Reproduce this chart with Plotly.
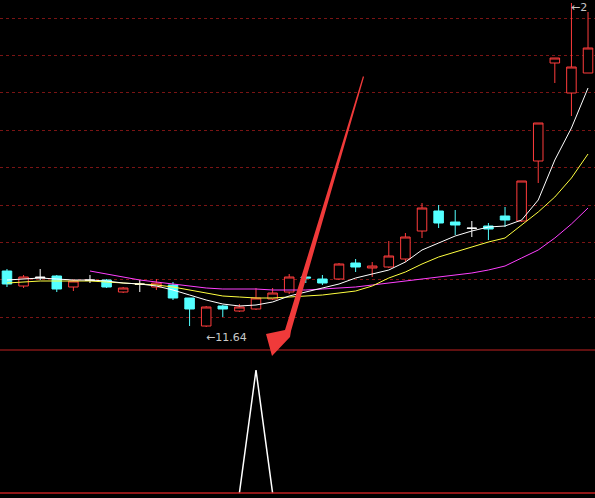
import plotly.graph_objects as go

opens  = [13.32,12.87,13.14,13.17,12.84,13.05,13.05,12.69,12.93,12.84,12.90,12.51,11.67,12.27,12.12,12.18,12.48,12.69,13.14,13.08,13.08,13.56,13.41,13.44,13.68,14.52,15.12,14.79,14.61,14.67,14.97,14.82,16.62,19.56,18.66,19.26]
highs  = [13.38,13.20,13.38,13.20,13.05,13.20,13.08,12.84,13.05,13.08,12.99,12.51,12.27,12.30,12.33,12.81,12.81,13.23,13.29,13.20,13.56,13.68,13.59,14.22,14.46,15.36,15.30,15.15,14.82,14.76,15.24,16.02,17.76,19.71,21.36,21.09]
lows   = [12.84,12.81,13.05,12.69,12.72,12.96,12.81,12.66,12.69,12.75,12.45,11.67,11.64,11.94,12.09,12.15,12.45,12.63,12.96,12.90,13.05,13.29,13.14,13.41,13.59,14.31,14.61,14.40,14.34,14.25,14.64,14.79,15.96,18.96,17.97,19.26]
closes = [12.93,13.14,13.12,12.78,13.02,13.04,12.84,12.81,12.92,12.96,12.51,12.18,12.24,12.18,12.24,12.51,12.66,13.14,13.11,12.96,13.53,13.44,13.47,13.77,14.34,15.21,14.76,14.70,14.60,14.58,14.85,16.02,17.76,19.71,19.44,20.01]
ma_white = [13.05,13.08,13.11,13.08,13.05,13.05,13.02,12.96,12.93,12.87,12.75,12.60,12.45,12.33,12.27,12.30,12.39,12.57,12.69,12.81,12.93,13.11,13.23,13.35,13.59,13.95,14.16,14.37,14.52,14.64,14.67,14.85,15.45,16.65,17.61,18.81]
ma_yellow = [12.96,12.99,13.02,13.02,13.02,13.02,12.99,12.96,12.93,12.90,12.84,12.75,12.66,12.57,12.54,12.51,12.51,12.54,12.57,12.60,12.66,12.72,12.87,13.11,13.29,13.53,13.74,13.89,14.04,14.19,14.31,14.70,15.09,15.54,16.11,16.83]
ma_magenta = [None]*5 + [13.32,13.23,13.14,13.05,12.99,12.93,12.87,12.81,12.78,12.78,12.78,12.75,12.75,12.75,12.78,12.81,12.84,12.90,12.96,13.02,13.08,13.14,13.20,13.26,13.35,13.47,13.71,13.95,14.31,14.73,15.21]
signal = [None]*14 + [0, 1, 0] + [None]*19
doji_idx = [2, 5, 8, 28]
low_label = "11.64"
high_label = "21.36"

n = len(opens)
x = list(range(n))
norm = [i for i in x if i not in doji_idx]
pick = lambda arr, idx: [arr[i] for i in idx]

fig = go.Figure()
fig.add_trace(go.Candlestick(
    x=pick(x, norm), open=pick(opens, norm), high=pick(highs, norm),
    low=pick(lows, norm), close=pick(closes, norm), whiskerwidth=0,
    increasing=dict(line=dict(color="#ff3c3c", width=1), fillcolor="black"),
    decreasing=dict(line=dict(color="#54ffff", width=1), fillcolor="#54ffff"),
    showlegend=False))
fig.add_trace(go.Candlestick(
    x=pick(x, doji_idx), open=pick(opens, doji_idx), high=pick(highs, doji_idx),
    low=pick(lows, doji_idx), close=pick(closes, doji_idx), whiskerwidth=0,
    increasing=dict(line=dict(color="white", width=1), fillcolor="white"),
    decreasing=dict(line=dict(color="white", width=1), fillcolor="white"),
    showlegend=False))
for arr, col in [(ma_magenta, "#ff40ff"), (ma_yellow, "#ffff40"), (ma_white, "white")]:
    fig.add_trace(go.Scatter(x=x, y=arr, mode="lines", line=dict(color=col, width=1),
                             showlegend=False, hoverinfo="skip"))
fig.add_trace(go.Scatter(x=x, y=signal, mode="lines", line=dict(color="white", width=1.5),
                         xaxis="x2", yaxis="y2", showlegend=False))

split = 1 - 350/498
fig.update_layout(
    width=595, height=498, margin=dict(l=0, r=0, t=0, b=0),
    paper_bgcolor="black", plot_bgcolor="black", boxgap=0.18,
    xaxis=dict(range=[-0.42, 35.42], visible=False, rangeslider=dict(visible=False)),
    yaxis=dict(domain=[split, 1], range=[10.95, 21.45], showticklabels=False,
               tick0=20.91, dtick=1.122, gridcolor="#7a1414", griddash="dot",
               gridwidth=1, zeroline=False),
    xaxis2=dict(range=[-0.42, 35.42], visible=False, anchor="y2", matches="x"),
    yaxis2=dict(domain=[0, split], range=[-0.04, 1.163], visible=False),
    shapes=[
        dict(type="line", xref="paper", yref="paper", x0=0, x1=1, y0=split, y1=split,
             line=dict(color="#c02020", width=1)),
        dict(type="line", xref="x2", yref="y2", x0=-0.42, x1=35.42, y0=0, y1=0,
             line=dict(color="#c02020", width=1.5), layer="above"),
        dict(type="path", xref="paper", yref="paper", fillcolor="#f03a3a", line=dict(width=0),
             path="M %f %f L %f %f L %f %f L %f %f L %f %f L %f %f L %f %f Z" % (
                 363/595, 1-76/498, 285/595, 1-330/498, 266/595, 1-334/498,
                 272/595, 1-356/498, 290/595, 1-337/498, 291/595, 1-331/498, 364/595, 1-77/498)),
    ],
    annotations=[
        dict(x=12, y=lows[12], xref="x", yref="y", text="←" + low_label, showarrow=False,
             xanchor="left", yanchor="top", xshift=-2, yshift=-2,
             font=dict(color="#c8c8c8", size=11, family="DejaVu Sans")),
        dict(x=34, y=highs[34], xref="x", yref="y", text="←" + high_label[0], showarrow=False,
             xanchor="left", yanchor="top", xshift=-2, yshift=4,
             font=dict(color="#c8c8c8", size=11, family="DejaVu Sans")),
    ],
)
fig.write_html("out.html", config={"displayModeBar": False},
               post_script="document.body.style.margin='0';document.body.style.overflow='hidden';")
